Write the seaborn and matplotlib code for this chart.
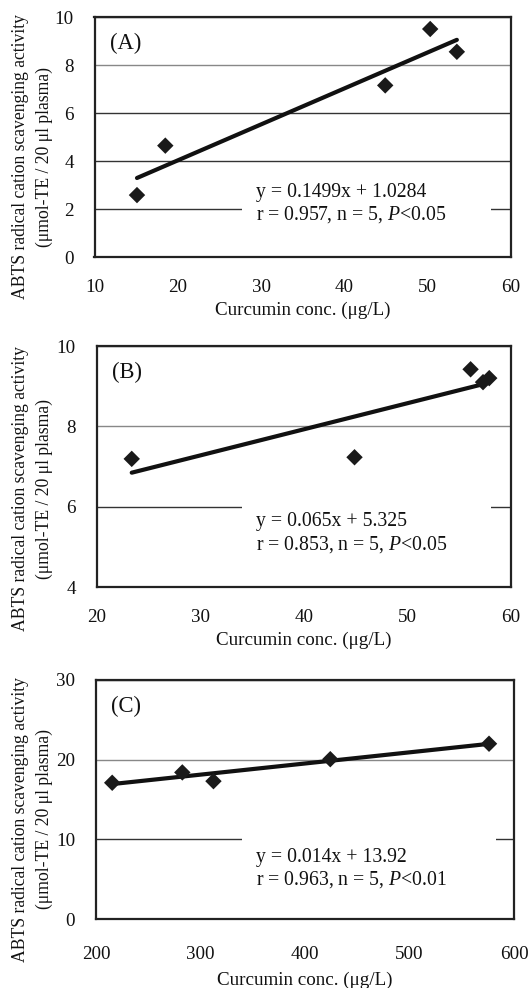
import numpy as np
import pandas as pd
import seaborn as sns
import matplotlib.pyplot as plt
import matplotlib.patches as mpatches

sns.set_theme(style='white')
plt.rcParams['font.family'] = ['Liberation Serif', 'DejaVu Serif']
plt.rcParams['mathtext.fontset'] = 'custom'
plt.rcParams['mathtext.it'] = 'Liberation Serif:italic'
plt.rcParams['mathtext.rm'] = 'Liberation Serif'

# ---------------- data ----------------
panel_labels = ['(A)', '(B)', '(C)']

xA = [15.1, 18.5, 44.9, 50.3, 53.5]
yA = [2.58, 4.64, 7.15, 9.50, 8.55]

xB = [23.4, 44.9, 56.1, 57.3, 57.9]
yB = [7.19, 7.23, 9.42, 9.10, 9.20]

xC = [215.5, 282.6, 312.4, 424.2, 576.1]
yC = [17.1, 18.4, 17.3, 20.06, 22.0]

slopes = [0.1499, 0.065, 0.014]
intercepts = [1.0284, 5.325, 13.92]

eq_texts = ['y = 0.1499x + 1.0284', 'y = 0.065x + 5.325', 'y = 0.014x + 13.92']
stat_texts = ['r = 0.957, n = 5, $\\mathit{P}$<0.05',
              'r = 0.853, n = 5, $\\mathit{P}$<0.05',
              'r = 0.963, n = 5, $\\mathit{P}$<0.01']

xlims = [(10, 60), (20, 60), (200, 600)]
ylims = [(0, 10), (4, 10), (0, 30)]
xticks = [[10, 20, 30, 40, 50, 60], [20, 30, 40, 50, 60], [200, 300, 400, 500, 600]]
yticks = [[0, 2, 4, 6, 8, 10], [4, 6, 8, 10], [0, 10, 20, 30]]
light_grid = [8, 8, 20]

xlabel = 'Curcumin conc. (μg/L)'
ylabel1 = 'ABTS radical cation scavenging activity'
ylabel2 = '(μmol-TE / 20 μl plasma)'

datasets = [(xA, yA), (xB, yB), (xC, yC)]

# ---------------- layout ----------------
W, H = 531, 988
fig = plt.figure(figsize=(W / 100, H / 100), dpi=100)

# axes boxes in pixels: left, top, right, bottom
boxes = [(94.5, 17, 511, 257), (96.5, 346, 511, 587), (96, 680, 514, 919)]
boxes_y = [(0.11, 0.31), (0.12, 0.36), (0.11, 0.36)]
box_x = [(242, 491), (242, 491), (242, 496)]
label_y = [0.417, 0.408, 0.418]
text_y = [0.220, 0.222, 0.209]
xtick_pad = [16, 16, 19.5]
xlabel_pad = [4, 4, 6]

for i, (x, y) in enumerate(datasets):
    l, t, r, b = boxes[i]
    ax = fig.add_axes([l / W, 1 - b / H, (r - l) / W, (b - t) / H])
    df = pd.DataFrame({'x': x, 'y': y})

    xs = np.array([min(x), max(x)])
    line_df = pd.DataFrame({'x': xs, 'y': slopes[i] * xs + intercepts[i]})
    sns.lineplot(data=line_df, x='x', y='y', ax=ax, color='#111111',
                 linewidth=3.0, zorder=3)
    sns.scatterplot(data=df, x='x', y='y', ax=ax, marker='D', s=70,
                    color='#1a1a1a', edgecolor='none', linewidth=0, zorder=4)

    ax.set_xlim(*xlims[i])
    ax.set_ylim(*ylims[i])
    ax.set_xticks(xticks[i])
    ax.set_yticks(yticks[i])
    ax.set_axisbelow(True)
    ax.grid(axis='y', linewidth=1.0)
    for val, gl in zip(yticks[i], ax.get_ygridlines()):
        gl.set_color('#888888' if val == light_grid[i] else '#333333')

    for sp in ax.spines.values():
        sp.set_linewidth(1.6)
        sp.set_color('#222222')
        sp.set_visible(True)

    ax.tick_params(axis='x', direction='in', length=5, width=1,
                   color='#444444', pad=xtick_pad[i], labelsize=13.7)
    ax.tick_params(axis='y', length=0, pad=15, labelsize=13.7)
    for lab in ax.get_xticklabels() + ax.get_yticklabels():
        lab.set_color('#111111')

    ax.set_xlabel(xlabel, fontsize=13.7, labelpad=xlabel_pad[i], color='#111111')
    ax.set_ylabel('')

    # y label lines positioned in figure pixels
    ax.text((20.5 - l) / (r - l), label_y[i], ylabel1, transform=ax.transAxes,
            rotation=90, ha='center', va='center', fontsize=12.7, color='#111111')
    ax.text((44.5 - l) / (r - l), label_y[i], ylabel2, transform=ax.transAxes,
            rotation=90, ha='center', va='center', fontsize=12.7, color='#111111')

    # panel label
    ax.text(0.037, 0.89, panel_labels[i], transform=ax.transAxes,
            ha='left', va='center', fontsize=16.3, color='#111111')

    # white text box interrupting the gridline
    x0 = (box_x[i][0] - l) / (r - l)
    x1 = (box_x[i][1] - l) / (r - l)
    y0, y1 = boxes_y[i]
    ax.add_patch(mpatches.Rectangle((x0, y0), x1 - x0, y1 - y0,
                                    transform=ax.transAxes, facecolor='white',
                                    edgecolor='none', zorder=1))
    ax.text((256 - l) / (r - l), text_y[i], eq_texts[i] + '\n' + stat_texts[i],
            transform=ax.transAxes, ha='left', va='center', fontsize=14.2,
            linespacing=1.15, color='#111111', zorder=5)

fig.savefig('out.png', dpi=100)
